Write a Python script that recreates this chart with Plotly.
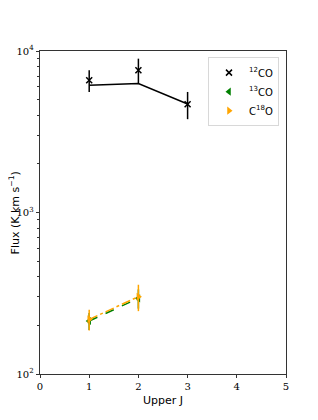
import plotly.graph_objects as go

# Data
j_12co = [1, 2, 3]
flux_12co = [6590, 7600, 4680]
err_12co = [1015, 1364, 897]
model_12co = [6140, 6285, 4700]

j_13co = [1, 2]
flux_13co = [213, 294]
err_13co = [26, 40]

j_c18o = [1, 2]
flux_c18o = [218, 301]
err_c18o = [32, 56]

ytickvals = [100, 1000, 10000]
yticktext = ["10<sup>2</sup>", "10<sup>3</sup>", "10<sup>4</sup>"]
yminorvals = [m * d for d in (100, 1000) for m in range(2, 10)]

fig = go.Figure()

# 12CO model line
fig.add_trace(go.Scatter(x=j_12co, y=model_12co, mode="lines",
                         line=dict(color="black", width=1.5), showlegend=False))
# 12CO points
fig.add_trace(go.Scatter(x=j_12co, y=flux_12co, mode="markers", name="<sup>12</sup>CO",
                         marker=dict(symbol="x-thin", size=6, color="black",
                                     line=dict(width=1.5, color="black")),
                         error_y=dict(type="data", array=err_12co, color="black",
                                      thickness=1.5, width=0)))
# 13CO
fig.add_trace(go.Scatter(x=j_13co, y=flux_13co, mode="lines",
                         line=dict(color="green", width=1.5, dash="dash"), showlegend=False))
fig.add_trace(go.Scatter(x=j_13co, y=flux_13co, mode="markers", name="<sup>13</sup>CO",
                         marker=dict(symbol="triangle-left", size=7, color="green"),
                         error_y=dict(type="data", array=err_13co, color="green",
                                      thickness=1.5, width=0)))
# C18O
fig.add_trace(go.Scatter(x=j_c18o, y=flux_c18o, mode="lines",
                         line=dict(color="orange", width=1.5, dash="dashdot"), showlegend=False))
fig.add_trace(go.Scatter(x=j_c18o, y=flux_c18o, mode="markers", name="C<sup>18</sup>O",
                         marker=dict(symbol="triangle-right", size=7, color="orange"),
                         error_y=dict(type="data", array=err_c18o, color="orange",
                                      thickness=1.5, width=0)))

tickfont = dict(family="DejaVu Serif, serif", size=10, color="black")
labelfont = dict(family="DejaVu Sans, sans-serif", size=11, color="black")

fig.update_layout(
    width=318, height=420,
    margin=dict(l=32, r=40, t=43, b=54),
    paper_bgcolor="white", plot_bgcolor="white",
    showlegend=True,
    legend=dict(x=0.9715, y=0.981, xanchor="right", yanchor="top",
                bgcolor="white", bordercolor="#d8d8d8", borderwidth=1,
                font=dict(family="DejaVu Sans, sans-serif", size=10, color="black"),
                itemwidth=30, tracegroupgap=0),
    xaxis=dict(range=[0, 5], tickvals=[0, 1, 2, 3, 4, 5], ticks="outside", ticklen=3.5,
               tickwidth=0.8, tickcolor="#333", showline=True, linecolor="#333", linewidth=0.8,
               mirror=True, showgrid=False, zeroline=False, tickfont=tickfont, automargin=False,
               title=dict(text="Upper J", standoff=4, font=labelfont)),
    yaxis=dict(type="log", range=[2, 4], tickvals=ytickvals, ticktext=yticktext,
               ticks="outside", ticklen=3.5, tickwidth=0.8, tickcolor="#333",
               minor=dict(tickmode="array", tickvals=yminorvals, ticks="outside", ticklen=2,
                          tickwidth=0.6, tickcolor="#333", showgrid=False),
               showline=True, linecolor="#333", linewidth=0.8, mirror=True,
               showgrid=False, zeroline=False, tickfont=tickfont, automargin=False),
    annotations=[dict(text="Flux (K km s<sup>−1</sup>)", xref="paper", yref="paper",
                      x=-0.102, y=0.5, xanchor="center", yanchor="middle",
                      textangle=-90, showarrow=False, font=labelfont)],
)

fig.write_html("out.html")
